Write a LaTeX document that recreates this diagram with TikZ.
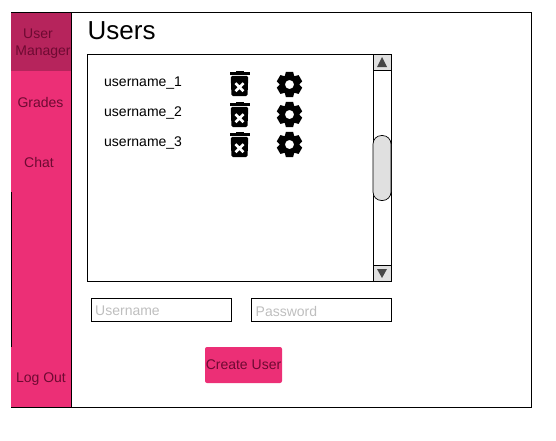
\documentclass[tikz,border=0pt]{standalone}
\usepackage{fontspec}
\setmainfont{Liberation Sans}
\definecolor{uipink}{RGB}{236,47,118}
\definecolor{uipinkdark}{RGB}{182,36,92}
\definecolor{uitext}{RGB}{110,10,50}
\definecolor{uihint}{RGB}{190,190,190}
\definecolor{uigrey}{RGB}{224,224,224}
\definecolor{uiarrow}{RGB}{70,70,70}
\usetikzlibrary{positioning,calc}
\tikzset{
  sidelabel/.style={font=\fontsize{14}{16}\selectfont,text=uitext,inner sep=0pt},
  rowlabel/.style={font=\fontsize{14}{16}\selectfont,anchor=west,inner sep=0pt},
  inputbox/.style={draw=black,line width=0.9pt,minimum width=140pt,minimum height=23pt,inner sep=0pt,anchor=north west},
  hintlabel/.style={font=\fontsize{14}{16}\selectfont,text=uihint,anchor=west,inner sep=0pt},
  trashicon/.pic={
    \fill (-10,-12) rectangle (10,-9.4);
    \fill (-4,-13) rectangle (4,-11);
    \fill[rounded corners=1.5pt] (-8.8,-8.2) -- (8.8,-8.2) -- (8,12) -- (-8,12) -- cycle;
    \draw[white,line width=2.6pt] (-4,-0.8) -- (4,7.2) (-4,7.2) -- (4,-0.8);
  },
  gearicon/.pic={
    \foreach \a in {0,60,...,300}
      \fill[rotate=\a] (-3.6,-12.6) -- (3.6,-12.6) -- (5.4,-6) -- (-5.4,-6) -- cycle;
    \fill[even odd rule] (0,0) circle (9.8) (0,0) circle (4.6);
  }
}
\begin{document}
\begin{tikzpicture}[x=1pt,y=-1pt]
  \useasboundingbox (0,0) rectangle (556,440);
  % sidebar and frame
  \fill[uipink] (11,12) rectangle (71,407);
  \fill[uipinkdark] (11,12) rectangle (71,71);
  \draw[line width=0.9pt] (11,12) -- (531,12) -- (531,407) -- (11,407);
  \draw[line width=0.9pt] (71,12) -- (71,407);
  \draw[line width=0.9pt] (11,192) -- (11,347);
  \node[sidelabel] (user) at (38,33.5) {User};
  \node[sidelabel] (manager) at (43,52.5) {Manager};
  \node[sidelabel] (grades) at (40.5,102.5) {Grades};
  \node[sidelabel] (chat) at (39,162.5) {Chat};
  \node[sidelabel] (logout) at (41,379) {Log Out};
  \node[font=\fontsize{26}{30}\selectfont,anchor=west,inner sep=0pt] (title) at (87.5,31) {Users};
  % user list
  \node[draw=black,line width=0.9pt,minimum width=304pt,minimum height=227pt,inner sep=0pt,anchor=north west] (listbox) at (87,54) {};
  \node[rowlabel] (name1) at (104,83) {username\_1};
  \node[rowlabel] (name2) at (104,113) {username\_2};
  \node[rowlabel] (name3) at (104,143) {username\_3};
  \pic at (239.5,84) {trashicon};
  \pic at (239.5,115) {trashicon};
  \pic at (239.5,145) {trashicon};
  \pic at (289.5,84.5) {gearicon};
  \pic at (289.5,114.5) {gearicon};
  \pic at (289.5,144.5) {gearicon};
  % scrollbar
  \draw[line width=0.9pt] (373,54) -- (373,281);
  \fill[uigrey] (373.5,54.5) rectangle (391,70);
  \fill[uigrey] (373.5,265) rectangle (391,281);
  \draw[line width=0.9pt] (373,70) -- (391,70) (373,265) -- (391,265);
  \draw[line width=0.9pt] (391,54) -- (391,281) -- (373,281) (373,54) -- (391,54);
  \fill[uiarrow] (382,57) -- (387,67) -- (377,67) -- cycle;
  \fill[uiarrow] (382,278) -- (387,269) -- (377,269) -- cycle;
  \draw[fill=uigrey,line width=0.7pt,rounded corners=8.5pt] (373,135.5) rectangle (391,200.5);
  % form
  \node[inputbox] (username) at (91,298) {};
  \node[inputbox] (password) at (251,298) {};
  \node[hintlabel] (userhint) at (95,311) {Username};
  \node[hintlabel] (passhint) at (255.5,311) {Password};
  \node[fill=uipink,rounded corners=2pt,minimum width=77pt,minimum height=36pt,inner sep=0pt,font=\fontsize{14}{16}\selectfont,text=uitext] (create) at (243.5,365) {Create User};
\end{tikzpicture}
\end{document}
